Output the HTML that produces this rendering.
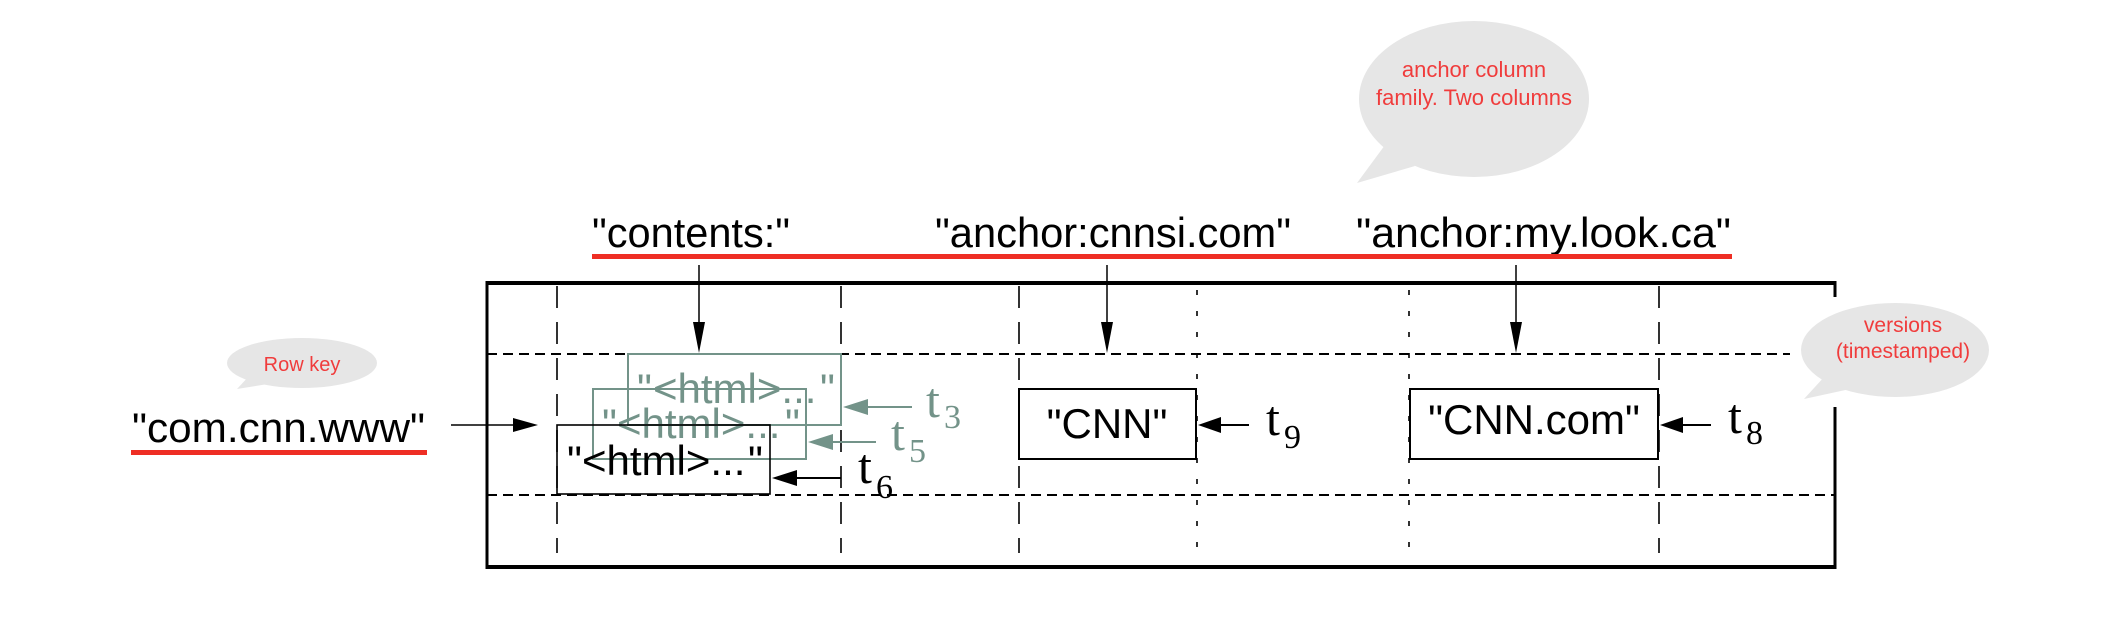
<!DOCTYPE html>
<html><head><meta charset="utf-8"><style>
html,body{margin:0;padding:0;background:#fff;}
svg{display:block;}
.s{font-family:"Liberation Sans",Arial,sans-serif;}
.r{font-family:"Liberation Serif","Times New Roman",serif;}
</style></head><body>
<svg width="2122" height="642" viewBox="0 0 2122 642" xmlns="http://www.w3.org/2000/svg">
<ellipse cx="1474" cy="99" rx="115" ry="78" fill="#e6e6e6"/>
<polygon points="1357,183 1385,145 1415,166" fill="#e6e6e6"/>
<text class="s" x="1474" y="77" font-size="22" fill="#f03c3c" text-anchor="middle">anchor column</text>
<text class="s" x="1474" y="105" font-size="22" fill="#f03c3c" text-anchor="middle">family. Two columns</text>

<ellipse cx="302" cy="363" rx="75" ry="25" fill="#e6e6e6"/>
<polygon points="237,389 250,375 268,384" fill="#e6e6e6"/>
<text class="s" x="302" y="371" font-size="20" fill="#f03c3c" text-anchor="middle">Row key</text>

<g stroke="#000" fill="none">
<line x1="487" y1="283" x2="1835" y2="283" stroke-width="4"/>
<line x1="487" y1="567" x2="1835" y2="567" stroke-width="4"/>
<line x1="487" y1="281" x2="487" y2="569" stroke-width="3"/>
<line x1="1835" y1="281" x2="1835" y2="297" stroke-width="3"/>
<line x1="1835" y1="407" x2="1835" y2="569" stroke-width="3"/>
<line x1="487" y1="354" x2="1790" y2="354" stroke-width="2" stroke-dasharray="10,6"/>
<line x1="487" y1="495" x2="1835" y2="495" stroke-width="2" stroke-dasharray="10,6"/>
<g stroke-width="1.6" stroke-dasharray="22,14">
<line x1="557" y1="286" x2="557" y2="553"/>
<line x1="841" y1="286" x2="841" y2="553"/>
<line x1="1019" y1="286" x2="1019" y2="553"/>
<line x1="1659" y1="286" x2="1659" y2="553"/>
</g>
<g stroke-width="1.6" stroke-dasharray="5,16">
<line x1="1197" y1="290" x2="1197" y2="555"/>
<line x1="1409" y1="290" x2="1409" y2="555"/>
</g>
</g>

<ellipse cx="1895" cy="350" rx="94" ry="47" fill="#e6e6e6"/>
<polygon points="1804,399 1825,376 1850,389" fill="#e6e6e6"/>
<text class="s" x="1903" y="332" font-size="21" fill="#f03c3c" text-anchor="middle">versions</text>
<text class="s" x="1903" y="358" font-size="21" fill="#f03c3c" text-anchor="middle">(timestamped)</text>

<g class="s" font-size="42" fill="#000">
<text x="592" y="247" textLength="198" lengthAdjust="spacingAndGlyphs">"contents:"</text>
<text x="935" y="247" textLength="356" lengthAdjust="spacingAndGlyphs">"anchor:cnnsi.com"</text>
<text x="1356" y="247" textLength="375" lengthAdjust="spacingAndGlyphs">"anchor:my.look.ca"</text>
<text x="132" y="442" textLength="293" lengthAdjust="spacingAndGlyphs">"com.cnn.www"</text>
</g>
<rect x="592" y="254" width="1140" height="5" fill="#ee2e24"/>
<rect x="131" y="450" width="296" height="5" fill="#ee2e24"/>

<g stroke="#000" stroke-width="1.5">
<line x1="699" y1="265" x2="699" y2="325"/>
<line x1="1107" y1="265" x2="1107" y2="325"/>
<line x1="1516" y1="265" x2="1516" y2="325"/>
<line x1="451" y1="425" x2="516" y2="425"/>
</g>
<g fill="#000">
<polygon points="693,322 705,322 699,353"/>
<polygon points="1101,322 1113,322 1107,353"/>
<polygon points="1510,322 1522,322 1516,353"/>
<polygon points="513,418 513,432 538,425"/>
</g>

<g stroke="#739389" stroke-width="2" fill="none">
<rect x="628" y="354" width="213" height="71"/>
<rect x="593" y="389" width="213" height="70"/>
<line x1="912" y1="407" x2="866" y2="407"/>
<line x1="876" y1="442" x2="830" y2="442"/>
</g>
<g fill="#739389">
<polygon points="843,407 868,399 868,415"/>
<polygon points="808,442 833,434 833,450"/>
</g>
<g class="s" font-size="42" fill="#739389">
<text x="637" y="403">"</text><text x="653" y="403">&lt;html&gt;...</text><text x="820" y="403">"</text>
<text x="602" y="438">"</text><text x="617" y="438">&lt;html&gt;...</text><text x="785" y="438">"</text>
</g>
<g class="r" fill="#739389">
<text x="926" y="417" font-size="50">t</text><text x="944" y="428" font-size="34">3</text>
<text x="891" y="450" font-size="50">t</text><text x="909" y="462" font-size="34">5</text>
</g>

<rect x="557" y="425" width="213" height="69" fill="none" stroke="#000" stroke-width="1.6"/>
<g class="s" font-size="42" fill="#000">
<text x="567" y="475">"</text><text x="582" y="475">&lt;html&gt;...</text><text x="748" y="475">"</text>
</g>
<line x1="841" y1="478" x2="795" y2="478" stroke="#000" stroke-width="2"/>
<polygon points="772,478 797,470 797,486" fill="#000"/>
<g class="r" fill="#000">
<text x="858" y="483" font-size="50">t</text><text x="876" y="498" font-size="34">6</text>
</g>

<rect x="1019" y="389" width="177" height="70" fill="#fff" stroke="#000" stroke-width="2"/>
<rect x="1410" y="389" width="248" height="70" fill="#fff" stroke="#000" stroke-width="2"/>
<g class="s" font-size="42" fill="#000" text-anchor="middle">
<text x="1107" y="438">"CNN"</text>
<text x="1534" y="434">"CNN.com"</text>
</g>
<line x1="1249" y1="425" x2="1218" y2="425" stroke="#000" stroke-width="2"/>
<polygon points="1198,425 1221,417 1221,433" fill="#000"/>
<line x1="1711" y1="425" x2="1680" y2="425" stroke="#000" stroke-width="2"/>
<polygon points="1660,425 1683,417 1683,433" fill="#000"/>
<g class="r" fill="#000">
<text x="1266" y="435" font-size="50">t</text><text x="1284" y="448" font-size="34">9</text>
<text x="1728" y="433" font-size="50">t</text><text x="1746" y="444" font-size="34">8</text>
</g>
</svg>
</body></html>
